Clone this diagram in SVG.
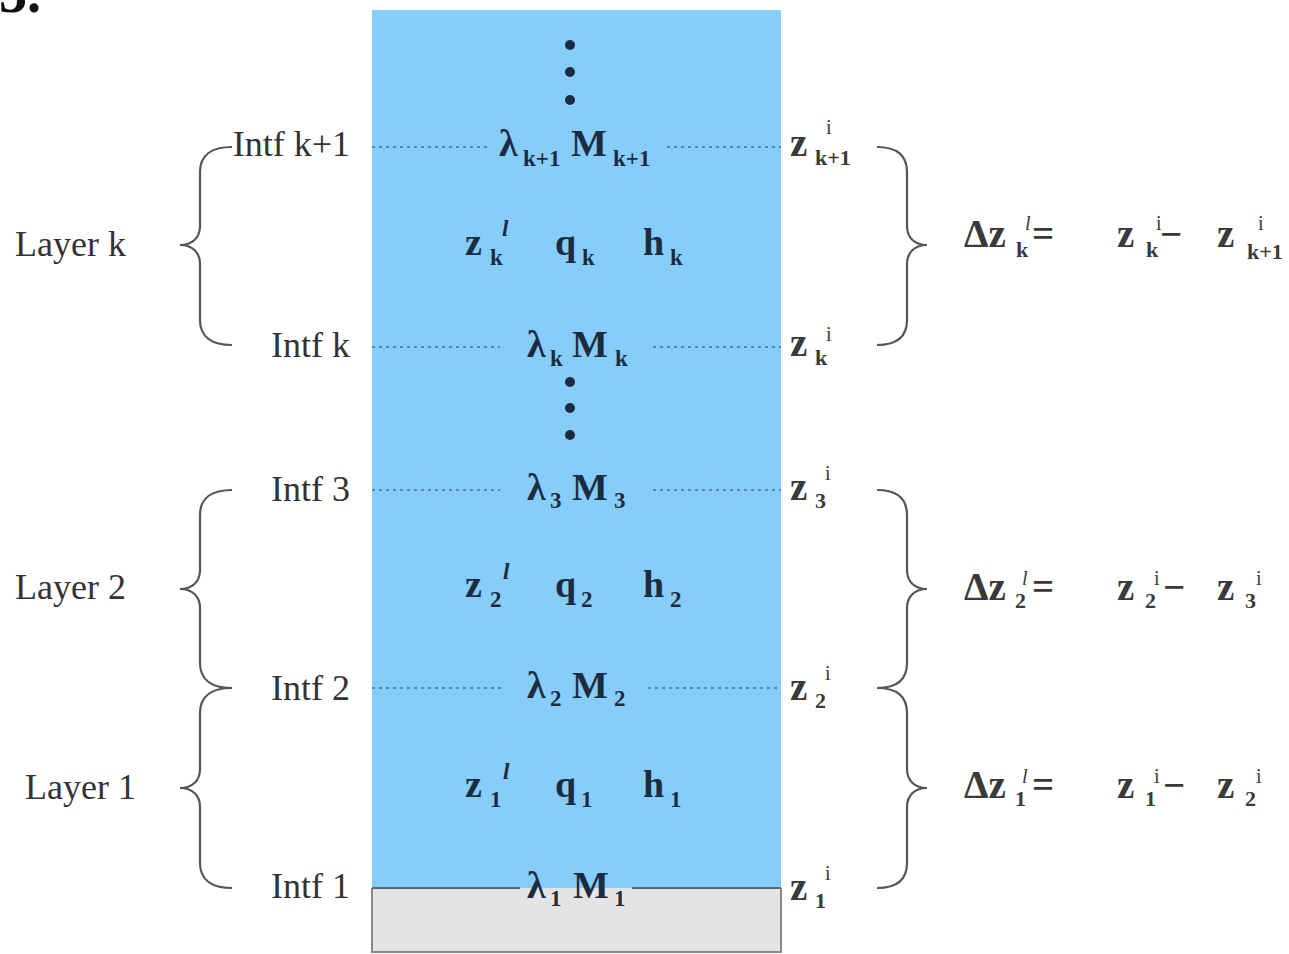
<svg xmlns="http://www.w3.org/2000/svg" width="1289" height="954" viewBox="0 0 1289 954">
<style>
.lbl{font-family:"Liberation Serif",serif;font-size:36px;fill:#333}
.m{font-family:"Liberation Serif",serif;font-size:38px;font-weight:bold;fill:#1c2c40}
.ms{font-family:"Liberation Serif",serif;font-size:23px;font-weight:bold;fill:#1c2c40}
.rz{font-family:"Liberation Serif",serif;font-size:39px;font-weight:bold;fill:#3a3a3a}
.rs{font-family:"Liberation Serif",serif;font-size:22px;font-weight:bold;fill:#3a3a3a}
.rsi{font-family:"Liberation Serif",serif;font-size:20px;fill:#3a3a3a}
.dot{stroke:#4a6f95;stroke-width:1.6;stroke-dasharray:3 4;fill:none}
.brace{fill:none;stroke:#555;stroke-width:2.2}
</style>
<rect width="1289" height="954" fill="#fff"/>
<text x="-1" y="12" font-family="Liberation Serif,serif" font-size="56" font-weight="bold" fill="#111">3.</text>
<g id="column">
<rect x="372" y="10" width="409" height="878" fill="#87cdfb"/>
<path d="M372,888 V952 H781 V888" fill="#e4e4e4" stroke="#888" stroke-width="2"/>
<rect x="373" y="889" width="407" height="62" fill="#e4e4e4"/>
<circle cx="570" cy="45" r="5" fill="#1c2c40"/>
<circle cx="570" cy="72" r="5" fill="#1c2c40"/>
<circle cx="570" cy="100" r="5" fill="#1c2c40"/>
<circle cx="570" cy="382" r="5" fill="#1c2c40"/>
<circle cx="570" cy="408" r="5" fill="#1c2c40"/>
<circle cx="570" cy="435" r="5" fill="#1c2c40"/>
</g>
<g id="connectors">
<line class="dot" x1="372" y1="147" x2="490" y2="147"/><line class="dot" x1="667" y1="147" x2="781" y2="147"/>
<line class="dot" x1="372" y1="347" x2="500" y2="347"/><line class="dot" x1="653" y1="347" x2="781" y2="347"/>
<line class="dot" x1="372" y1="490" x2="500" y2="490"/><line class="dot" x1="653" y1="490" x2="781" y2="490"/>
<line class="dot" x1="372" y1="688" x2="503" y2="688"/><line class="dot" x1="648" y1="688" x2="781" y2="688"/>
<line x1="372" y1="888" x2="520" y2="888" stroke="#4f6a80" stroke-width="2"/><line x1="632" y1="888" x2="781" y2="888" stroke="#4f6a80" stroke-width="2"/>
<path class="brace" d="M232,147 C212,147 200,155 200,172 L200,226 C200,238 192,245 180,245 C192,245 200,252 200,264 L200,320 C200,337 212,345 232,345"/>
<path class="brace" d="M232,490 C212,490 200,498 200,515 L200,570 C200,582 192,589 180,589 C192,589 200,596 200,608 L200,663 C200,680 212,688 232,688"/>
<path class="brace" d="M232,688 C212,688 200,696 200,713 L200,769 C200,781 192,788 180,788 C192,788 200,795 200,807 L200,863 C200,880 212,888 232,888"/>
<path class="brace" d="M877,147 C897,147 907,155 907,172 L907,226 C907,238 915,245 927,245 C915,245 907,252 907,264 L907,320 C907,337 897,345 877,345"/>
<path class="brace" d="M877,490 C897,490 907,498 907,515 L907,570 C907,582 915,589 927,589 C915,589 907,596 907,608 L907,663 C907,680 897,688 877,688"/>
<path class="brace" d="M877,688 C897,688 907,696 907,713 L907,769 C907,781 915,788 927,788 C915,788 907,795 907,807 L907,863 C907,880 897,888 877,888"/>
</g>
<g id="left-labels">
<text class="lbl" x="350" y="156" text-anchor="end">Intf k+1</text>
<text class="lbl" x="350" y="357" text-anchor="end">Intf k</text>
<text class="lbl" x="350" y="501" text-anchor="end">Intf 3</text>
<text class="lbl" x="350" y="700" text-anchor="end">Intf 2</text>
<text class="lbl" x="350" y="898" text-anchor="end">Intf 1</text>
<text class="lbl" x="15" y="256">Layer k</text>
<text class="lbl" x="15" y="599">Layer 2</text>
<text class="lbl" x="25" y="799">Layer 1</text>
</g>
<g id="intf-kp1">
<text class="m" x="499" y="156">λ</text><text class="ms" x="523" y="166">k+1</text>
<text class="m" x="571" y="156">M</text><text class="ms" x="613" y="166">k+1</text>
</g>
<g id="intf-k">
<text class="m" x="527" y="357">λ</text><text class="ms" x="550" y="366">k</text>
<text class="m" x="572" y="357">M</text><text class="ms" x="615" y="366">k</text>
</g>
<g id="intf-3">
<text class="m" x="527" y="500">λ</text><text class="ms" x="550" y="508">3</text>
<text class="m" x="572" y="500">M</text><text class="ms" x="614" y="508">3</text>
</g>
<g id="intf-2">
<text class="m" x="527" y="698">λ</text><text class="ms" x="550" y="706">2</text>
<text class="m" x="572" y="698">M</text><text class="ms" x="614" y="706">2</text>
</g>
<g id="intf-1">
<text class="m" x="527" y="898">λ</text><text class="ms" x="550" y="906">1</text>
<text class="m" x="573" y="898">M</text><text class="ms" x="614" y="906">1</text>
</g>
<g id="layer-k">
<text class="m" x="465" y="255">z</text><text class="ms" x="490" y="265">k</text><text class="ms" x="502" y="236" font-style="italic">l</text>
<text class="m" x="555" y="255">q</text><text class="ms" x="582" y="265">k</text>
<text class="m" x="643" y="255">h</text><text class="ms" x="670" y="265">k</text>
</g>
<g id="layer-2">
<text class="m" x="465" y="597">z</text><text class="ms" x="490" y="607">2</text><text class="ms" x="503" y="579" font-style="italic">l</text>
<text class="m" x="555" y="597">q</text><text class="ms" x="581" y="607">2</text>
<text class="m" x="643" y="597">h</text><text class="ms" x="670" y="607">2</text>
</g>
<g id="layer-1">
<text class="m" x="465" y="797">z</text><text class="ms" x="490" y="807">1</text><text class="ms" x="503" y="779" font-style="italic">l</text>
<text class="m" x="555" y="797">q</text><text class="ms" x="581" y="807">1</text>
<text class="m" x="643" y="797">h</text><text class="ms" x="670" y="807">1</text>
</g>
<g id="right-z">
<text class="rz" x="790" y="156">z</text><text class="rs" x="815" y="165">k+1</text><text class="rsi" x="826" y="134">i</text>
<text class="rz" x="790" y="356">z</text><text class="rs" x="815" y="365">k</text><text class="rsi" x="826" y="341">i</text>
<text class="rz" x="790" y="500">z</text><text class="rs" x="815" y="508">3</text><text class="rsi" x="825" y="480">i</text>
<text class="rz" x="790" y="700">z</text><text class="rs" x="815" y="708">2</text><text class="rsi" x="825" y="680">i</text>
<text class="rz" x="790" y="900">z</text><text class="rs" x="815" y="908">1</text><text class="rsi" x="825" y="880">i</text>
</g>
<g id="formula-k">
<text class="rz" x="964" y="247">Δz</text><text class="rs" x="1016" y="257">k</text><text class="rsi" x="1025" y="230" font-style="italic">l</text><text class="rz" x="1032" y="247">=</text>
<text class="rz" x="1117" y="247">z</text><text class="rs" x="1146" y="257">k</text><text class="rsi" x="1156" y="230">i</text><text class="rz" x="1160" y="247">−</text>
<text class="rz" x="1217" y="247">z</text><text class="rs" x="1247" y="259">k+1</text><text class="rsi" x="1258" y="230">i</text>
</g>
<g id="formula-2">
<text class="rz" x="964" y="600">Δz</text><text class="rs" x="1015" y="608">2</text><text class="rsi" x="1022" y="585" font-style="italic">l</text><text class="rz" x="1032" y="600">=</text>
<text class="rz" x="1117" y="600">z</text><text class="rs" x="1145" y="608">2</text><text class="rsi" x="1154" y="585">i</text><text class="rz" x="1163" y="600">−</text>
<text class="rz" x="1217" y="600">z</text><text class="rs" x="1245" y="608">3</text><text class="rsi" x="1256" y="585">i</text>
</g>
<g id="formula-1">
<text class="rz" x="964" y="798">Δz</text><text class="rs" x="1015" y="806">1</text><text class="rsi" x="1022" y="783" font-style="italic">l</text><text class="rz" x="1032" y="798">=</text>
<text class="rz" x="1117" y="798">z</text><text class="rs" x="1145" y="806">1</text><text class="rsi" x="1154" y="783">i</text><text class="rz" x="1163" y="798">−</text>
<text class="rz" x="1217" y="798">z</text><text class="rs" x="1245" y="806">2</text><text class="rsi" x="1256" y="783">i</text>
</g>
</svg>
